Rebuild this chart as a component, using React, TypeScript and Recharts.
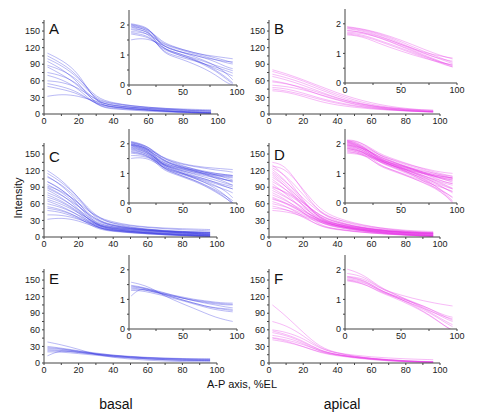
import React from 'react'
import { LineChart, Line, XAxis, YAxis } from 'recharts'

// sample positions along the A-P axis (%EL)
const X_PTS = [2, 10, 20, 30, 40, 50, 60, 70, 80, 90, 96]

const MAIN_X_TICKS = [0, 10, 20, 30, 40, 50, 60, 70, 80, 90, 100]
const MAIN_Y_TICKS = [0, 15, 30, 45, 60, 75, 90, 105, 120, 135, 150, 165]
const INSET_X_TICKS = [0, 25, 50, 75, 100]
const INSET_Y_TICKS = [0, 0.5, 1, 1.5, 2]

const BLUE = '#3030e0'
const MAGENTA = '#e633e6'
const FONT = '"Liberation Sans", Arial, sans-serif'

// A: basal, early
const panelA = [
  [110, 98, 75, 18, 12, 9, 7, 4.5, 3, 1.6, 1.1],
  [105, 92, 70, 21, 15, 12, 9, 6.5, 4.5, 2.5, 1.5],
  [100, 88, 66, 28, 20, 15, 12, 10, 8, 6.5, 5.5],
  [95, 82, 58, 13, 9, 7, 5, 3.5, 2.2, 1.2, 1.0],
  [88, 80, 62, 25, 19, 15, 12, 10, 9, 8, 7.5],
  [85, 72, 52, 17, 13, 10, 8, 6, 4.5, 3.5, 3],
  [75, 70, 55, 21, 15, 12, 10, 8, 6, 4, 3.5],
  [70, 63, 46, 14, 10, 8, 6.5, 5, 4, 3, 2.5],
  [60, 58, 48, 24, 18, 14, 11, 9, 7, 5.5, 5],
  [55, 50, 40, 16, 12, 9, 7, 5, 3.5, 2.5, 2],
  [50, 45, 37, 18, 13, 10, 7.5, 5, 3.2, 1.8, 1.2],
  [32, 36, 33, 22, 16, 12, 10, 8, 7, 6, 6],
]

// B: apical, early
const panelB = [
  [80, 73, 62, 50, 38, 28, 20, 14, 10, 7.5, 6.5],
  [77, 70, 60, 47, 35, 25, 17, 12, 8.5, 6, 5],
  [72, 66, 56, 44, 32, 22, 15, 10.5, 7.5, 5.5, 4.5],
  [68, 62, 52, 40, 29, 20, 14, 10, 7.5, 6, 5.5],
  [58, 55, 48, 38, 28, 20, 15, 11, 9, 7.5, 7],
  [52, 50, 44, 35, 26, 18, 13, 9, 6.5, 4.5, 3.8],
  [48, 46, 38, 28, 21, 15, 11, 8, 6, 4.5, 4],
  [45, 42, 35, 26, 19, 14, 10, 7.5, 5.5, 4, 3.5],
  [42, 40, 32, 22, 16, 12, 9, 7, 5.5, 4.5, 4.2],
  [60, 56, 46, 34, 25, 17, 12, 8.5, 6, 4.2, 3.5],
]

// C: basal, mid
const panelC = [
  [120, 104, 72, 30, 20, 15, 12, 10, 8, 6, 5],
  [115, 100, 72, 36, 24, 18, 14, 11, 9, 7, 6],
  [110, 94, 64, 20, 14, 10, 7.5, 5.5, 4, 2.5, 1.5],
  [108, 96, 68, 33, 25, 20, 17, 15, 13, 12, 11],
  [100, 88, 58, 18, 13, 10, 7, 5, 3.2, 1.8, 1.0],
  [95, 82, 56, 27, 20, 16, 13, 11, 9, 8, 7.5],
  [90, 78, 52, 16, 11, 8, 6, 4, 2.6, 1.5, 0.9],
  [88, 76, 56, 30, 22, 17, 14, 12, 10, 9, 8.5],
  [85, 72, 48, 20, 15, 11, 8.5, 6.5, 5, 3.5, 3],
  [80, 70, 50, 25, 18, 14, 11, 9, 7.5, 6, 5.5],
  [76, 66, 46, 22, 16, 12, 9.5, 7.5, 6, 4.5, 4],
  [72, 64, 45, 15, 11, 8, 6, 4.2, 2.8, 1.7, 1.2],
  [68, 60, 44, 24, 18, 15, 13, 11, 10, 9, 8.5],
  [65, 56, 40, 16, 12, 9, 7, 5, 3.6, 2.8, 2.2],
  [60, 54, 40, 22, 17, 14, 12, 10, 9, 8.5, 8],
  [55, 50, 36, 14, 10, 7.5, 5.5, 3.8, 2.4, 1.4, 1.0],
  [52, 48, 36, 21, 16, 13, 11, 9.5, 8.5, 7.5, 7],
  [48, 45, 34, 18, 13, 10, 8, 6.5, 5, 4, 3.5],
  [40, 40, 33, 20, 15, 12, 10, 8.5, 7, 6, 5.5],
  [32, 35, 30, 17, 12, 9.5, 7.5, 6, 4.5, 3.5, 3],
  [100, 86, 62, 28, 21, 16, 12.5, 9.5, 7, 5, 4],
  [92, 84, 62, 36, 27, 21, 18, 16, 15, 14, 13.5],
]

// D: apical, mid
const panelD = [
  [135, 130, 82, 42, 28, 20, 15, 11, 8, 6, 5],
  [130, 110, 66, 30, 20, 14, 9.5, 6.5, 4, 2, 1.2],
  [128, 124, 86, 48, 34, 25, 19, 14, 11, 9, 8],
  [122, 102, 64, 33, 23, 16, 11.5, 8.5, 6, 4, 3.2],
  [118, 100, 70, 42, 31, 24, 18, 15, 12, 10.5, 10],
  [112, 92, 56, 26, 18, 13, 9, 5.5, 3.5, 1.8, 1.1],
  [108, 92, 64, 37, 26, 19, 14, 10.5, 8, 6.5, 6],
  [104, 86, 56, 29, 20, 14, 9.5, 6.5, 4.5, 3, 2.4],
  [100, 86, 62, 36, 26, 19, 15, 12, 10, 8.5, 8],
  [96, 78, 50, 24, 17, 12, 8.5, 6, 4, 2.2, 1.5],
  [92, 80, 58, 34, 24, 18, 14, 11, 9, 7.5, 7],
  [88, 74, 50, 28, 20, 14, 10.5, 7.5, 5.5, 3.8, 3],
  [84, 72, 54, 32, 23, 17, 13, 10, 8, 6.5, 6],
  [80, 68, 44, 20, 14, 10, 7, 4.8, 3.2, 1.8, 1.0],
  [76, 66, 48, 30, 22, 17, 13, 10, 8, 7, 6.5],
  [72, 62, 44, 25, 18, 13, 9.5, 7, 5, 3.5, 3],
  [68, 62, 47, 30, 23, 18, 14, 11, 9, 7.5, 7],
  [64, 56, 38, 18, 13, 9.5, 7, 5, 3.4, 2.2, 1.6],
  [60, 55, 42, 28, 21, 16, 12, 9.5, 7.5, 6, 5.5],
  [56, 50, 36, 19, 14, 10.5, 7.5, 5.5, 4, 3, 2.5],
  [52, 50, 40, 27, 20, 15, 11, 8, 6, 4.5, 4],
  [48, 46, 38, 25, 19, 15, 12, 10, 8.5, 7.5, 7],
  [115, 96, 62, 32, 22, 15.5, 11, 7.5, 5, 3, 2.2],
  [125, 112, 76, 44, 31, 22, 17, 13, 10, 8, 7],
  [90, 82, 62, 38, 27, 19, 14, 10, 7, 5, 4.5],
  [70, 60, 44, 28, 20, 15, 11, 8.5, 6.5, 5, 4.5],
]

// E: basal, late
const panelE = [
  [38, 33, 25, 15, 10, 7, 5, 3.5, 2.5, 2, 1.8],
  [30, 27, 22, 18, 14, 11, 9, 8, 7, 6.5, 6.5],
  [28, 26, 21, 16, 12, 9.5, 7.5, 6, 5, 4.5, 4.2],
  [26, 25, 21, 17, 14, 12, 10, 9, 8, 7.5, 7.5],
  [24, 23, 19, 15, 12, 9.5, 7.5, 6, 5.2, 4.8, 4.6],
  [22, 22, 19, 16, 13, 11, 9, 7.5, 6.5, 5.5, 5.2],
  [20, 20, 17, 14, 11, 9, 7, 5.5, 4.5, 4, 3.8],
  [13, 24, 20, 16, 13, 11, 9.5, 8.5, 7.5, 7, 6.8],
]

// F: apical, late
const panelF = [
  [105, 85, 55, 28, 18, 12, 8, 5, 3, 1.8, 1.4],
  [75, 68, 50, 26, 17, 12, 8.5, 6, 4, 2.5, 2],
  [60, 56, 45, 25, 18, 14, 11, 9, 7.5, 6.5, 6],
  [58, 52, 40, 22, 15, 10, 6.5, 4, 2.3, 1.2, 0.9],
  [55, 50, 38, 22, 15, 11, 8, 5.5, 3.5, 2.2, 1.8],
  [50, 46, 36, 20, 14, 10, 7, 4.5, 2.8, 1.6, 1.2],
  [46, 42, 34, 21, 15, 11, 8, 6, 4, 2.8, 2.5],
  [45, 40, 30, 18, 13, 9, 6, 3.8, 2.2, 1.2, 0.9],
  [42, 38, 30, 19, 14, 10, 7, 5, 3.5, 2.5, 2.2],
]

const majorMain = (v: number) => (v % 30 === 0 ? String(v) : '')
const majorMainX = (v: number) => (v % 20 === 0 ? String(v) : '')
const majorInsetX = (v: number) => (v % 50 === 0 ? String(v) : '')
const majorInsetY = (v: number) => (Number.isInteger(v) ? String(v) : '')

interface PlotProps {
  curves: number[][]
  color: string
  left: number
  top: number
  w: number
  h: number
  inset?: boolean
}

function Plot({ curves, color, left, top, w, h, inset }: PlotProps) {
  const data = X_PTS.map((x, i) => {
    const row: Record<string, number> = { x }
    curves.forEach((c, j) => {
      row['s' + j] = inset ? Math.log10(c[i]) : c[i]
    })
    return row
  })
  const YW = 26
  const XH = 16
  const tick = { fontSize: 9, fill: '#222', fontFamily: FONT }
  return (
    <div style={{ position: 'absolute', left: left - YW, top: top - 4 }}>
      <LineChart
        width={w + YW + 12}
        height={h + 4 + XH}
        data={data}
        margin={{ top: 4, right: 12, left: 0, bottom: 0 }}
      >
        <XAxis
          dataKey="x"
          type="number"
          domain={[0, 100]}
          ticks={inset ? INSET_X_TICKS : MAIN_X_TICKS}
          tickFormatter={inset ? majorInsetX : majorMainX}
          interval={0}
          tick={tick}
          tickSize={2}
          height={XH}
          stroke="#444"
        />
        <YAxis
          type="number"
          domain={inset ? [0, 2.5] : [0, 170]}
          ticks={inset ? INSET_Y_TICKS : MAIN_Y_TICKS}
          tickFormatter={inset ? majorInsetY : majorMain}
          interval={0}
          allowDataOverflow
          tick={tick}
          tickSize={2}
          width={YW}
          stroke="#444"
        />
        {curves.map((_, j) => (
          <Line
            key={j}
            dataKey={'s' + j}
            type="basis"
            stroke={color}
            strokeWidth={0.8}
            strokeOpacity={0.42}
            dot={false}
            isAnimationActive={false}
          />
        ))}
      </LineChart>
    </div>
  )
}

export default function App() {
  return (
    <div style={{ position: 'absolute', left: 0, top: 0, width: 478, height: 412, background: '#fff', fontFamily: FONT }}>
      <Plot curves={panelA} color={BLUE} left={44} top={20} w={174} h={94} />
      <Plot curves={panelB} color={MAGENTA} left={269} top={20} w={171} h={94} />
      <Plot curves={panelC} color={BLUE} left={44} top={143} w={173} h={94} />
      <Plot curves={panelD} color={MAGENTA} left={269} top={143} w={171} h={94} />
      <Plot curves={panelE} color={BLUE} left={44} top={269} w={173} h={94} />
      <Plot curves={panelF} color={MAGENTA} left={269} top={269} w={171} h={94} />

      <Plot curves={panelA} color={BLUE} left={129} top={10} w={108} h={75} inset />
      <Plot curves={panelB} color={MAGENTA} left={345} top={9} w={112} h={74} inset />
      <Plot curves={panelC} color={BLUE} left={129} top={129} w={108} h={74} inset />
      <Plot curves={panelD} color={MAGENTA} left={345} top={129} w={112} h={74} inset />
      <Plot curves={panelE} color={BLUE} left={129} top={255} w={108} h={74} inset />
      <Plot curves={panelF} color={MAGENTA} left={345} top={255} w={112} h={74} inset />

      <svg width={478} height={412} style={{ position: 'absolute', left: 0, top: 0, pointerEvents: 'none' }}>
        <g fontFamily={FONT} fill="#111">
          <text x={49} y={34} fontSize={15}>A</text>
          <text x={274} y={34} fontSize={15}>B</text>
          <text x={49} y={162} fontSize={15}>C</text>
          <text x={274} y={160} fontSize={15}>D</text>
          <text x={49} y={284} fontSize={15}>E</text>
          <text x={274} y={284} fontSize={15}>F</text>
          <text x={22} y={198} fontSize={11} textAnchor="middle" transform="rotate(-90 22 198)">Intensity</text>
          <text x={242} y={388} fontSize={11} textAnchor="middle">A-P axis, %EL</text>
          <text x={116} y={409} fontSize={14} textAnchor="middle">basal</text>
          <text x={342} y={409} fontSize={14} textAnchor="middle">apical</text>
        </g>
      </svg>
    </div>
  )
}
